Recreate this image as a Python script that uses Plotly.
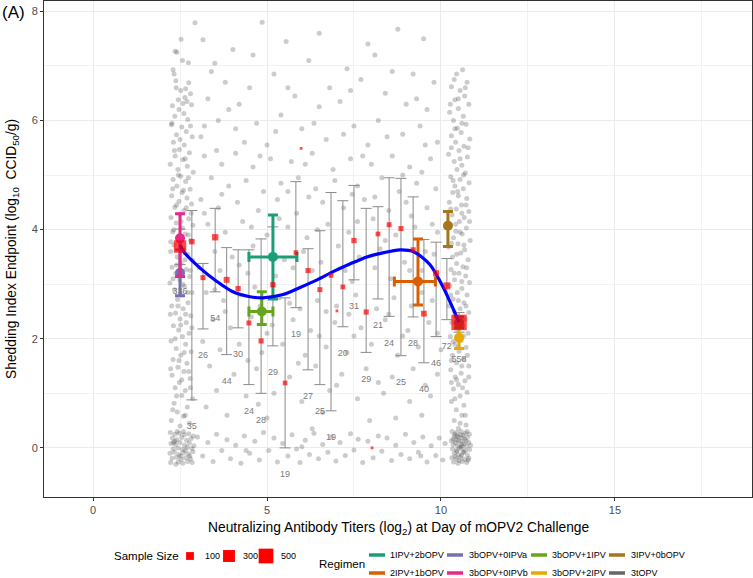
import plotly.graph_objects as go

# ---------------- data ----------------
# binned means (red squares) with spread bars and counts
bin_x = [2.50, 2.84, 3.16, 3.51, 3.84, 4.17, 4.48, 4.83, 5.17, 5.52, 5.83, 6.18, 6.52,
         6.84, 7.18, 7.50, 7.85, 8.19, 8.51, 8.85, 9.20, 9.51, 9.86, 10.17, 10.52]
bin_y = [3.69, 3.78, 3.12, 3.86, 3.08, 2.92, 2.29, 1.96, 2.99, 1.19, 3.58, 3.25, 2.90,
         3.16, 2.95, 3.80, 2.49, 3.92, 4.09, 4.02, 3.63, 2.46, 3.20, 2.97, 2.30]
bin_lo = [3.36, 0.88, 2.18, 2.86, 1.71, 2.20, 1.16, 1.00, 1.87, 0.00, 2.57, 1.43, 1.16,
          0.68, 2.22, 3.08, 1.75, 2.73, 2.41, 1.69, 2.40, 1.56, 2.04, 2.35, 2.12]
bin_hi = [4.01, 4.35, 3.38, 4.39, 3.67, 3.63, 3.63, 3.83, 4.05, 2.75, 4.88, 3.65, 3.98,
          4.68, 4.53, 4.81, 4.39, 4.42, 4.95, 4.94, 4.60, 3.82, 3.77, 3.47, 2.48]
bin_n = [336, 35, 26, 54, 44, 30, 24, 28, 29, 19, 19, 27, 25,
         19, 20, 31, 29, 21, 24, 25, 28, 40, 46, 72, 558]

# single-subject bins (tiny squares, no bar / label)
tiny_x = [5.98, 7.01, 8.02]
tiny_y = [5.49, 2.51, 0.00]
tiny_n = [1, 1, 1]

# fitted curve
curve_x = [2.50, 2.60, 3.07, 3.56, 4.02, 4.51, 4.89, 5.46, 5.95, 6.44, 6.90, 7.38, 7.87,
           8.30, 8.82, 9.20, 9.68, 10.06, 10.30, 10.52]
curve_y = [3.72, 3.60, 3.30, 3.05, 2.86, 2.77, 2.75, 2.81, 2.94, 3.08, 3.23, 3.37, 3.50,
           3.57, 3.63, 3.60, 3.36, 2.95, 2.62, 2.30]

# regimen means with x / y intervals
reg_names = ["1IPV+2bOPV", "2IPV+1bOPV", "3bOPV+0IPVa", "3bOPV+0IPVb",
             "3bOPV+1IPV", "3bOPV+2IPV", "3IPV+0bOPV", "3tOPV"]
reg_colors = ["#1B9E77", "#D95F02", "#7570B3", "#E7298A",
              "#66A61E", "#E6AB02", "#A6761D", "#666666"]
reg_x = [5.17, 9.34, 2.50, 2.50, 4.85, 10.52, 10.20, 10.52]
reg_xlo = [4.48, 8.66, 2.50, 2.50, 4.48, 10.52, 10.20, 10.52]
reg_xhi = [5.86, 9.84, 2.50, 2.50, 5.17, 10.52, 10.20, 10.52]
reg_y = [3.50, 3.05, 3.21, 3.84, 2.50, 2.02, 4.07, 2.30]
reg_ylo = [2.73, 2.62, 2.79, 3.14, 2.26, 1.82, 3.69, 2.20]
reg_yhi = [4.27, 3.83, 3.63, 4.29, 2.86, 2.25, 4.33, 2.40]

size_legend = [100, 300, 500]

# individual subjects (jittered in the original)
left_pts = [
    (2.93, 7.79), (2.53, 7.49), (2.36, 7.27), (2.41, 7.25), (2.74, 7.06), (2.30, 6.93), (2.38, 6.73),
    (2.75, 6.69), (2.39, 6.60), (2.52, 6.55), (2.66, 6.58), (2.80, 6.49), (2.64, 6.42), (2.45, 6.38),
    (2.58, 6.31), (2.28, 6.27), (2.83, 6.29), (2.47, 6.20), (2.61, 6.13), (2.35, 6.08), (2.72, 6.02),
    (2.25, 5.92), (2.55, 5.88), (2.68, 5.80), (2.40, 5.74), (2.85, 5.70), (2.31, 5.60), (2.62, 5.55),
    (2.48, 5.47), (2.77, 5.41), (2.36, 5.35), (2.58, 5.28), (2.22, 5.20), (2.71, 5.16), (2.44, 5.10),
    (2.88, 5.05), (2.52, 4.98), (2.30, 4.92), (2.66, 4.88), (2.41, 4.80), (2.79, 4.74), (2.56, 4.68),
    (2.26, 4.62), (2.70, 4.58), (2.47, 4.52), (2.83, 4.47), (2.35, 4.41), (2.61, 4.35), (2.50, 4.28),
    (2.24, 4.22), (2.75, 4.20), (2.39, 4.12), (2.87, 4.08), (2.57, 4.03), (2.29, 3.96), (2.65, 3.92),
    (2.45, 3.85), (2.80, 3.80), (2.33, 3.72), (2.60, 3.66), (2.23, 3.60), (2.72, 3.55), (2.42, 3.50),
    (2.86, 3.44), (2.53, 3.38), (2.27, 3.31), (2.68, 3.27), (2.38, 3.20), (2.78, 3.14), (2.49, 3.08),
    (2.21, 3.02), (2.63, 2.96), (2.34, 2.90), (2.84, 2.85), (2.55, 2.80), (2.43, 2.72), (2.73, 2.66),
    (2.26, 2.60), (2.59, 2.55), (2.37, 2.47), (2.81, 2.42), (2.50, 2.36), (2.68, 2.30), (2.31, 2.24),
    (2.46, 2.16), (2.76, 2.10), (2.57, 2.04), (2.24, 1.96), (2.66, 1.90), (2.39, 1.82), (2.82, 1.76),
    (2.52, 1.70), (2.30, 1.62), (2.70, 1.55), (2.44, 1.48), (2.61, 1.40), (2.27, 1.33), (2.79, 1.27),
    (2.48, 1.20), (2.36, 1.10), (2.65, 1.05), (2.55, 0.96), (2.86, 0.90), (2.33, 0.82), (2.71, 0.75),
    (2.42, 0.66), (2.60, 0.58), (2.25, 0.50), (2.77, 0.45),
    (2.22, 0.28), (2.35, 0.25), (2.48, 0.27), (2.62, 0.24), (2.75, 0.26), (2.88, 0.22), (2.28, 0.18),
    (2.41, 0.15), (2.55, 0.19), (2.69, 0.14), (2.82, 0.17), (2.24, 0.08), (2.37, 0.06), (2.50, 0.10),
    (2.63, 0.05), (2.77, 0.09), (2.90, 0.04), (2.30, -0.02), (2.44, 0.00), (2.57, -0.03), (2.71, 0.01),
    (2.84, -0.01), (2.21, -0.10), (2.34, -0.08), (2.47, -0.12), (2.60, -0.09), (2.74, -0.11),
    (2.87, -0.07), (2.27, -0.19), (2.40, -0.17), (2.53, -0.21), (2.66, -0.18), (2.80, -0.20),
    (2.23, -0.27), (2.45, -0.26), (2.58, -0.28), (2.72, -0.25), (2.85, -0.27),
    (2.57, 7.10), (2.33, 6.85), (2.70, 6.35), (2.27, 5.95), (2.50, 5.65), (2.80, 5.90), (2.34, 5.45),
    (2.65, 5.30), (2.45, 5.00), (2.74, 4.95), (2.29, 4.75), (2.60, 4.72), (2.40, 4.45), (2.68, 4.40),
    (2.53, 4.15), (2.82, 4.30), (2.32, 4.00), (2.74, 3.90), (2.50, 3.70), (2.23, 3.78), (2.64, 3.45),
    (2.40, 3.35), (2.80, 3.25), (2.30, 3.10), (2.58, 3.00), (2.72, 2.85), (2.44, 2.60), (2.22, 2.45),
    (2.66, 2.45), (2.52, 2.25), (2.84, 2.20), (2.36, 2.00), (2.62, 1.75), (2.47, 1.60), (2.23, 1.45),
    (2.75, 1.40), (2.55, 1.25), (2.40, 0.95), (2.80, 1.10), (2.29, 0.70), (2.65, 0.60), (2.50, 0.40),
    (2.42, 0.30), (2.31, 0.10), (2.66, -0.05), (2.52, -0.15), (2.38, -0.30), (2.78, -0.15),
    (2.60, 0.30), (2.35, 0.12),
]
mid_pts = [
    (3.16, 7.48), (4.02, 7.30), (4.86, 7.80), (5.55, 7.45), (8.76, 7.67), (9.50, 7.50), (3.50, 7.05),
    (6.20, 7.10), (7.30, 6.95), (8.10, 7.20), (9.20, 6.85), (3.80, 6.70), (4.50, 6.60), (5.20, 6.85),
    (6.80, 6.60), (7.70, 6.75), (9.80, 6.70), (3.30, 6.40), (4.20, 6.30), (5.80, 6.45), (6.50, 6.25),
    (7.10, 6.35), (8.40, 6.50), (9.00, 6.30), (9.60, 6.20), (3.60, 6.00), (4.70, 5.95), (5.40, 6.10),
    (6.00, 5.85), (7.50, 5.90), (8.20, 6.00), (8.90, 5.75), (9.40, 5.90), (3.10, 5.70), (4.35, 5.60),
    (5.00, 5.55), (6.70, 5.65), (7.90, 5.55), (9.90, 5.60),
    (3.20, 5.35), (3.70, 5.20), (4.10, 5.40), (4.60, 5.15), (5.10, 5.30), (5.70, 5.25), (6.30, 5.40),
    (6.90, 5.10), (7.40, 5.30), (8.00, 5.20), (8.60, 5.35), (9.10, 5.15), (9.70, 5.30), (3.40, 4.95),
    (3.90, 4.80), (4.40, 4.90), (4.90, 4.70), (5.40, 4.85), (5.90, 4.95), (6.40, 4.75), (6.95, 4.90),
    (7.60, 4.80), (8.30, 4.95), (8.80, 4.70), (9.30, 4.85), (9.85, 4.75), (3.10, 4.55), (3.60, 4.40),
    (4.15, 4.50), (4.75, 4.35), (5.30, 4.55), (5.85, 4.30), (6.60, 4.50), (7.20, 4.40), (7.80, 4.55),
    (8.50, 4.35), (9.00, 4.50), (9.60, 4.40), (3.30, 4.10), (3.80, 3.95), (4.30, 4.15), (5.00, 3.90),
    (5.60, 4.05), (6.15, 3.85), (6.75, 4.10), (7.35, 3.95), (8.05, 4.20), (8.70, 3.90), (9.25, 4.05),
    (9.90, 3.95), (3.50, 3.60), (4.00, 3.50), (4.60, 3.70), (5.50, 3.45), (6.05, 3.60), (6.55, 3.40),
    (7.05, 3.70), (7.65, 3.50), (8.25, 3.65), (8.95, 3.40), (9.55, 3.60), (3.05, 3.30), (4.45, 3.20),
    (5.25, 3.15), (6.85, 3.20), (7.45, 3.05), (8.55, 3.10), (9.45, 3.25),
    (3.25, 2.85), (3.75, 2.70), (4.25, 2.80), (4.80, 2.60), (5.35, 2.75), (5.95, 2.55), (6.45, 2.70),
    (7.00, 2.60), (7.55, 2.80), (8.15, 2.55), (8.65, 2.75), (9.15, 2.60), (9.75, 2.70), (3.45, 2.35),
    (3.95, 2.20), (4.55, 2.40), (5.15, 2.25), (5.75, 2.35), (6.25, 2.15), (6.95, 2.30), (7.70, 2.20),
    (8.40, 2.35), (9.05, 2.15), (9.65, 2.30), (3.15, 1.95), (3.65, 1.80), (4.20, 1.90), (4.85, 1.75),
    (5.45, 1.90), (6.10, 1.70), (6.70, 1.85), (7.30, 1.75), (8.00, 1.90), (8.75, 1.70), (9.35, 1.85),
    (10.00, 1.80), (3.35, 1.50), (4.05, 1.35), (4.70, 1.45), (5.65, 1.30), (6.40, 1.50), (7.15, 1.35),
    (7.85, 1.45), (8.60, 1.30), (9.20, 1.45), (9.90, 1.35), (3.55, 1.05), (4.40, 0.95), (5.20, 1.00),
    (6.00, 0.85), (6.80, 1.05), (7.60, 0.90), (8.35, 1.00), (9.10, 0.85), (9.70, 0.95), (3.85, 0.60),
    (5.00, 0.55), (6.60, 0.65), (7.95, 0.50), (9.45, 0.60),
    (3.00, 0.20), (3.15, -0.15), (3.30, 0.10), (3.45, -0.25), (3.55, 0.25), (3.70, -0.05), (3.85, 0.15),
    (3.95, -0.20), (4.10, 0.05), (4.25, -0.28), (4.35, 0.22), (4.50, -0.10), (4.65, 0.12), (4.78, -0.22),
    (4.90, 0.28), (5.05, -0.05), (5.20, 0.18), (5.30, -0.26), (5.45, 0.08), (5.60, -0.15), (5.72, 0.24),
    (5.85, -0.02), (5.95, -0.27), (6.10, 0.14), (6.22, -0.12), (6.35, 0.27), (6.48, -0.20), (6.60, 0.06),
    (6.75, -0.08), (6.85, 0.20), (6.98, -0.24), (7.10, 0.10), (7.25, -0.14), (7.40, 0.26), (7.50, -0.04),
    (7.62, 0.16), (7.75, -0.27), (7.90, 0.12), (8.05, -0.18), (8.20, 0.22), (8.30, -0.06), (8.45, 0.18),
    (8.58, -0.23), (8.70, 0.05), (8.85, -0.12), (8.98, 0.25), (9.10, -0.20), (9.22, 0.10), (9.35, -0.08),
    (9.48, 0.20), (9.60, -0.26), (9.72, 0.04), (9.85, -0.14), (9.95, 0.18), (10.05, -0.22), (10.12, 0.08),
    (9.42, -0.15), (6.00, 0.02), (4.40, -0.05),
    (3.40, 6.90), (4.60, 7.20), (6.50, 7.60), (7.90, 7.40), (3.90, 6.20), (5.60, 6.60), (7.40, 6.55),
    (8.60, 6.90), (9.30, 6.40), (3.20, 5.90), (4.10, 5.85), (5.25, 5.80), (6.35, 5.95), (7.20, 5.75),
    (8.45, 5.70), (9.55, 5.55), (3.55, 5.45), (4.80, 5.35), (6.10, 5.20), (7.75, 5.35), (8.90, 5.00),
    (9.45, 5.05), (3.70, 4.65), (5.60, 4.70), (6.20, 4.60), (7.45, 4.65), (8.10, 4.60), (9.15, 4.25),
    (9.75, 4.10), (3.20, 4.30), (4.55, 4.05), (5.35, 4.20), (6.45, 4.00), (7.60, 4.15), (8.40, 3.80),
    (9.80, 3.55), (3.65, 3.25), (4.20, 3.35), (5.75, 3.30), (6.30, 3.25), (7.25, 3.25), (8.10, 3.30),
    (9.10, 3.25), (3.50, 2.90), (4.65, 2.95), (5.65, 2.65), (6.70, 2.50), (7.35, 2.45), (8.50, 2.45),
    (9.45, 2.85), (3.80, 2.50), (5.00, 2.10), (6.50, 2.05), (7.50, 2.05), (8.90, 2.05), (9.90, 2.10),
    (4.45, 1.60), (5.90, 1.55), (7.00, 1.15), (8.20, 1.20), (9.55, 1.15), (6.30, 0.35), (4.75, 0.80),
    (8.70, 0.55), (3.25, 0.75),
]
right_pts = [
    (10.62, 6.93), (10.45, 6.85), (10.75, 6.70), (10.30, 6.62), (10.55, 6.55), (10.68, 6.45),
    (10.40, 6.38), (10.80, 6.30), (10.50, 6.22), (10.25, 6.15), (10.64, 6.08), (10.36, 6.00),
    (10.72, 5.93), (10.47, 5.86), (10.58, 5.78), (10.30, 5.72), (10.83, 5.66), (10.42, 5.60),
    (10.66, 5.53), (10.52, 5.45), (10.22, 5.38), (10.76, 5.33), (10.38, 5.25), (10.60, 5.18),
    (10.46, 5.10), (10.70, 5.04), (10.28, 4.97), (10.55, 4.92), (10.81, 4.86), (10.40, 4.80),
    (10.64, 4.75), (10.34, 4.68), (10.50, 4.62), (10.74, 4.57), (10.24, 4.50), (10.59, 4.45),
    (10.44, 4.38), (10.80, 4.33), (10.32, 4.27), (10.67, 4.22), (10.53, 4.15), (10.27, 4.09),
    (10.73, 4.03), (10.43, 3.97), (10.61, 3.92), (10.36, 3.85), (10.84, 3.80), (10.49, 3.74),
    (10.22, 3.68), (10.68, 3.63), (10.57, 3.57), (10.33, 3.50), (10.78, 3.45), (10.45, 3.38),
    (10.63, 3.32), (10.29, 3.27), (10.52, 3.20), (10.71, 3.15), (10.39, 3.08), (10.82, 3.03),
    (10.25, 2.97), (10.60, 2.92), (10.47, 2.85), (10.75, 2.80), (10.35, 2.73), (10.66, 2.66),
    (10.23, 2.60), (10.55, 2.55), (10.80, 2.48), (10.42, 2.42), (10.70, 2.36), (10.31, 2.30),
    (10.62, 2.24), (10.48, 2.17), (10.78, 2.10), (10.27, 2.04), (10.58, 1.97), (10.40, 1.90),
    (10.72, 1.84), (10.52, 1.77), (10.33, 1.70), (10.65, 1.63), (10.45, 1.56), (10.80, 1.50),
    (10.28, 1.43), (10.58, 1.37), (10.41, 1.30), (10.69, 1.23), (10.50, 1.16), (10.36, 1.08),
    (10.75, 1.02), (10.55, 0.95), (10.30, 0.85), (10.66, 0.78), (10.44, 0.70), (10.60, 0.60),
    (10.38, 0.50), (10.72, 0.42), (10.50, 0.36),
    (10.32, 0.30), (10.45, 0.28), (10.58, 0.30), (10.70, 0.27), (10.82, 0.25), (10.38, 0.22),
    (10.51, 0.20), (10.64, 0.23), (10.76, 0.19), (10.30, 0.13), (10.43, 0.15), (10.56, 0.12),
    (10.68, 0.16), (10.80, 0.10), (10.35, 0.06), (10.48, 0.04), (10.60, 0.07), (10.73, 0.03),
    (10.85, 0.05), (10.33, -0.02), (10.46, -0.04), (10.58, -0.01), (10.70, -0.05), (10.82, -0.03),
    (10.38, -0.10), (10.50, -0.12), (10.63, -0.09), (10.76, -0.13), (10.31, -0.18), (10.44, -0.20),
    (10.56, -0.17), (10.68, -0.21), (10.80, -0.19), (10.36, -0.26), (10.49, -0.28), (10.61, -0.25),
    (10.74, -0.27), (10.42, 0.09), (10.54, 0.01), (10.66, -0.07), (10.40, 0.25), (10.62, 0.18),
    (10.52, -0.23), (10.72, 0.12), (10.47, 0.21), (10.59, -0.14),
    (10.38, 6.75), (10.70, 6.60), (10.50, 6.40), (10.27, 6.30), (10.60, 5.95), (10.40, 5.85),
    (10.78, 5.50), (10.30, 5.50), (10.55, 5.30), (10.65, 5.00), (10.35, 4.90), (10.48, 4.70),
    (10.72, 4.45), (10.28, 4.38), (10.60, 4.30), (10.42, 4.10), (10.82, 4.15), (10.55, 3.95),
    (10.30, 3.75), (10.66, 3.72), (10.45, 3.55), (10.74, 3.30), (10.38, 3.20), (10.60, 3.05),
    (10.50, 2.70), (10.28, 2.80), (10.72, 2.60), (10.38, 2.50), (10.65, 2.05), (10.35, 1.95),
    (10.50, 1.85), (10.76, 1.70), (10.30, 1.60), (10.60, 1.50), (10.45, 1.25), (10.80, 1.30),
    (10.30, 1.20), (10.62, 1.10), (10.40, 0.90), (10.70, 0.60), (10.55, 0.45), (10.45, -0.06),
    (10.60, 0.03), (10.35, 0.16), (10.75, 0.30), (10.56, 0.24), (10.66, 0.07), (10.41, -0.16),
    (10.78, -0.22), (10.50, 0.13),
]

# ---------------- helpers ----------------
FONT = "Liberation Sans, Arial, sans-serif"
W, H = 753, 578
PL, PR, PT, PB = 44, 752, 1, 497          # panel edges in pixels


def px(x):
    return (x - PL) / (PR - PL)


def py(y):
    return (PB - y) / (PB - PT)


def sq_size(n):
    return 2.2 + 0.56 * n ** 0.5


fig = go.Figure()

pts = left_pts + mid_pts + right_pts
fig.add_trace(go.Scatter(
    x=[p[0] for p in pts], y=[p[1] for p in pts], mode="markers",
    marker=dict(size=5, color="rgba(40,40,40,0.24)", line=dict(width=0)),
    hoverinfo="skip"))

# spread bars for the bins
fig.add_trace(go.Scatter(
    x=bin_x, y=bin_y, mode="markers", marker=dict(size=0.1, opacity=0),
    error_y=dict(type="data", symmetric=False,
                 array=[h - m for h, m in zip(bin_hi, bin_y)],
                 arrayminus=[m - l for m, l in zip(bin_y, bin_lo)],
                 color="#8a8a8a", thickness=1, width=5.5),
    hoverinfo="skip"))

# regimen means
for i, name in enumerate(reg_names):
    ex = reg_xhi[i] - reg_xlo[i] > 0
    fig.add_trace(go.Scatter(
        x=[reg_x[i]], y=[reg_y[i]], mode="markers", name=name,
        marker=dict(size=10, color=reg_colors[i]),
        error_y=dict(type="data", symmetric=False,
                     array=[reg_yhi[i] - reg_y[i]], arrayminus=[reg_y[i] - reg_ylo[i]],
                     color=reg_colors[i], thickness=3, width=5),
        error_x=dict(type="data", symmetric=False, visible=ex,
                     array=[reg_xhi[i] - reg_x[i]], arrayminus=[reg_x[i] - reg_xlo[i]],
                     color=reg_colors[i], thickness=3, width=5)))

fig.add_trace(go.Scatter(
    x=curve_x, y=curve_y, mode="lines",
    line=dict(color="#0000FF", width=3.2, shape="spline", smoothing=0.8),
    hoverinfo="skip"))

fig.add_trace(go.Scatter(
    x=bin_x + tiny_x, y=bin_y + tiny_y, mode="markers",
    marker=dict(symbol="square", color="#FF0000",
                size=[sq_size(n) for n in bin_n + tiny_n], line=dict(width=0))))

fig.add_trace(go.Scatter(
    x=bin_x, y=[l - 0.5 for l in bin_lo], mode="text",
    text=[str(n) for n in bin_n],
    textfont=dict(size=9, color="#7a7a7a", family=FONT),
    hoverinfo="skip"))

# ---------------- annotations & manual legend ----------------
ann = []
shapes = []
ann.append(dict(text="(A)", x=px(0), y=py(13), xref="paper", yref="paper",
                xanchor="left", yanchor="middle", showarrow=False,
                font=dict(size=17, color="black", family=FONT)))
ann.append(dict(text="Neutralizing Antibody Titers (log<sub>2</sub>) at Day of mOPV2 Challenge",
                x=px((PL + PR) / 2), y=py(528), xref="paper", yref="paper",
                xanchor="center", yanchor="middle", showarrow=False,
                font=dict(size=13.8, color="black", family=FONT)))
ann.append(dict(text="Shedding Index Endpoint (log<sub>10</sub>  CCID<sub>50</sub>/g)",
                x=px(12), y=py((PT + PB) / 2), xref="paper", yref="paper", textangle=-90,
                xanchor="center", yanchor="middle", showarrow=False,
                font=dict(size=13.8, color="black", family=FONT)))

# sample size legend
ann.append(dict(text="Sample Size", x=px(181), y=py(556), xref="paper", yref="paper",
                xanchor="right", yanchor="middle", showarrow=False,
                font=dict(size=11.5, color="black", family=FONT)))
for n, cx, tx in zip(size_legend, [190, 229, 266], [203, 241, 279]):
    s = sq_size(n)
    shapes.append(dict(type="rect", xref="paper", yref="paper",
                       x0=px(cx - s / 2), x1=px(cx + s / 2), y0=py(556 + s / 2), y1=py(556 - s / 2),
                       fillcolor="#FF0000", line=dict(width=0)))
    ann.append(dict(text=str(n), x=px(tx), y=py(556), xref="paper", yref="paper",
                    xanchor="left", yanchor="middle", showarrow=False,
                    font=dict(size=9, color="black", family=FONT)))

# regimen legend (2 rows x 4 columns)
ann.append(dict(text="Regimen", x=px(317), y=py(564), xref="paper", yref="paper",
                xanchor="left", yanchor="middle", showarrow=False,
                font=dict(size=11.5, color="black", family=FONT)))
key_cx = [377, 455, 539, 617]
text_x = [388, 467, 550, 629]
row_y = [555, 573]
for i, name in enumerate(reg_names):
    c, r = i // 2, i % 2
    yy = row_y[r]
    shapes.append(dict(type="line", xref="paper", yref="paper",
                       x0=px(key_cx[c] - 8), x1=px(key_cx[c] + 8), y0=py(yy), y1=py(yy),
                       line=dict(color=reg_colors[i], width=3.5)))
    ann.append(dict(text=name, x=px(text_x[c]), y=py(yy), xref="paper", yref="paper",
                    xanchor="left", yanchor="middle", showarrow=False,
                    font=dict(size=9, color="black", family=FONT)))

axis_common = dict(
    showgrid=True, gridcolor="#EBEBEB", gridwidth=1, zeroline=False,
    showline=True, mirror=True, linecolor="#333333", linewidth=1,
    ticks="outside", ticklen=3, tickcolor="#333333", tickwidth=1,
    tickfont=dict(size=11, color="#4D4D4D", family=FONT),
)

fig.update_layout(
    width=W, height=H,
    margin=dict(l=PL, r=W - PR, t=PT, b=H - PB),
    paper_bgcolor="white", plot_bgcolor="white",
    showlegend=False,
    font=dict(family=FONT),
    xaxis=dict(range=[-1.41, 18.94], tickvals=[0, 5, 10, 15],
               minor=dict(tickmode="linear", tick0=0, dtick=2.5, showgrid=True,
                          gridcolor="#F2F2F2", gridwidth=0.6),
               **axis_common),
    yaxis=dict(range=[-0.9, 8.19], tickvals=[0, 2, 4, 6, 8],
               minor=dict(tickmode="linear", tick0=0, dtick=1, showgrid=True,
                          gridcolor="#F2F2F2", gridwidth=0.6),
               **axis_common),
    annotations=ann, shapes=shapes,
)

# the page body has a default 8px margin; drop it so the figure sits at the corner
fig.write_html("out.html", config={"displayModeBar": False},
               post_script="document.body.style.margin='0';")
